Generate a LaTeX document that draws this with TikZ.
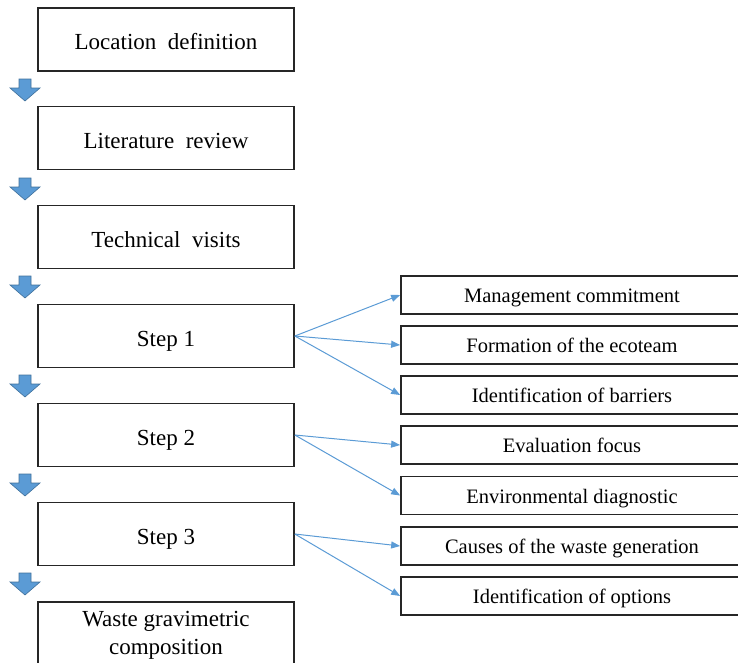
\documentclass[tikz,border=0pt]{standalone}
\usepackage{fontspec}
\setmainfont{Liberation Serif}
\usetikzlibrary{arrows.meta}
\definecolor{flowblue}{RGB}{91,155,213}
\definecolor{flowedge}{RGB}{65,113,156}
\definecolor{boxline}{RGB}{38,38,38}
\begin{document}
\begin{tikzpicture}[x=1pt,y=-1pt,
    stage/.style={draw=boxline,line width=1.7pt,minimum width=256pt,minimum height=63pt,
      inner sep=0pt,align=center,text height=20pt,text depth=0pt,
      font=\fontsize{23}{28}\selectfont},
    task/.style={draw=boxline,line width=1.7pt,minimum width=342pt,minimum height=38pt,
      inner sep=0pt,text height=15pt,text depth=0pt,
      font=\fontsize{20.5}{24}\selectfont},
    link/.style={draw=flowblue,line width=1pt,-{Triangle[length=9pt,width=7pt]}},
    downarrow/.style={fill=flowblue,draw=flowedge,line width=0.6pt}]
  \useasboundingbox (0,0) rectangle (738,662);
  \clip (0,0) rectangle (738,662);
  \draw
    (166,39.5) node[stage] (loc){Location\ \ definition}
    (166,138) node[stage] (lit){Literature\ \ review}
    (166,237) node[stage] (vis){Technical\ \ visits}
    (166,336) node[stage] (s1){Step 1}
    (166,435) node[stage] (s2){Step 2}
    (166,534) node[stage] (s3){Step 3}
    (166,633.5) node[stage,text height=41pt] (waste){Waste gravimetric\\composition};
  \draw
    (572,295) node[task] (c1){Management commitment}
    (572,345) node[task] (c2){Formation of the ecoteam}
    (572,395) node[task] (c3){Identification of barriers}
    (572,445) node[task] (c4){Evaluation focus}
    (572,495.5) node[task] (c5){Environmental diagnostic}
    (572,546) node[task] (c6){Causes of the waste generation}
    (572,596) node[task] (c7){Identification of options};
  % block arrows between the stages
  \foreach \y in {79,178,276,375,474,573}
    \draw[downarrow] (19,\y) -- (31,\y) -- (31,\y+9) -- (40,\y+9) -- (25,\y+22)
      -- (10,\y+9) -- (19,\y+9) -- cycle;
  \begin{scope}[link]
    \draw (s1.east) to (c1.west);
    \draw (s1.east) to (c2.west);
    \draw (s1.east) to (c3.west);
    \draw (s2.east) to (c4.west);
    \draw (s2.east) to (c5.west);
    \draw (s3.east) to (c6.west);
    \draw (s3.east) to (c7.west);
  \end{scope}
\end{tikzpicture}
\end{document}
